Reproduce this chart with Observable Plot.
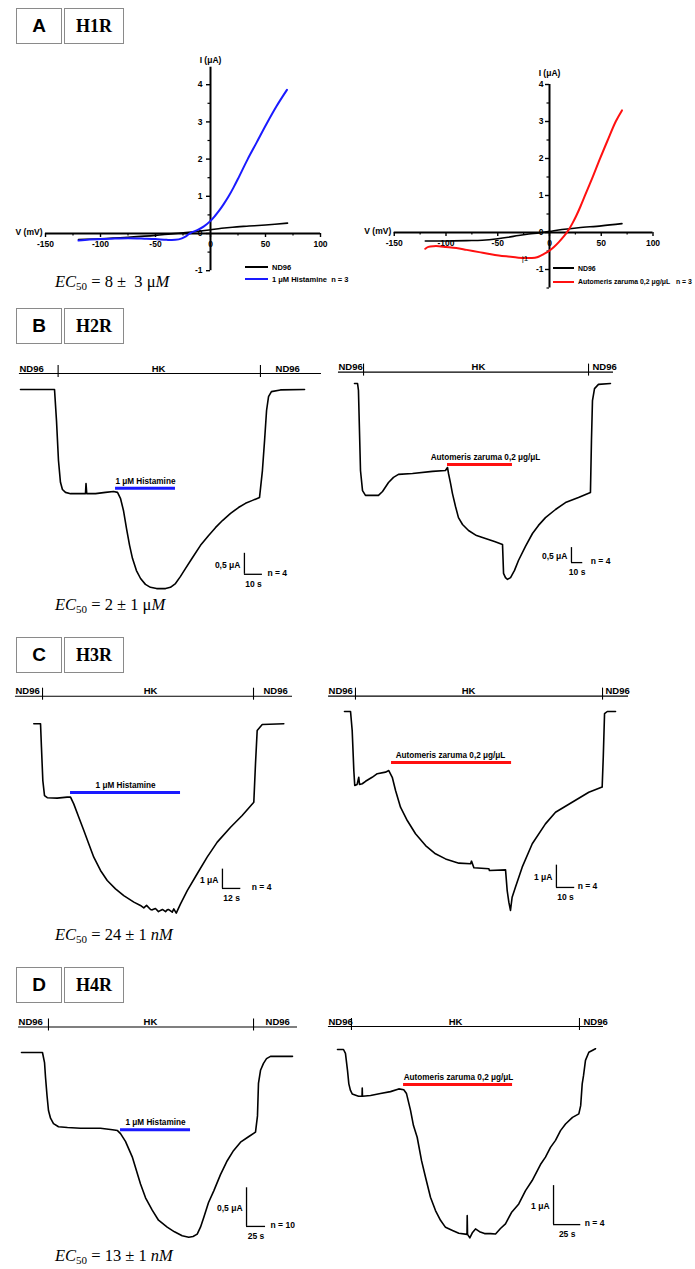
<!DOCTYPE html>
<html><head><meta charset="utf-8">
<script src="https://cdn.jsdelivr.net/npm/d3@7"></script>
<script src="https://cdn.jsdelivr.net/npm/@observablehq/plot@0.6"></script>
<style>
html,body{margin:0;padding:0;background:#fff;}
#fig{position:relative;width:695px;height:1269px;overflow:hidden;background:#fff;font-family:"Liberation Sans",Arial,sans-serif;color:#000;}
#fig svg{position:absolute;overflow:visible;background:transparent;}
.box{position:absolute;box-sizing:border-box;border:1.5px solid #8a8a8a;display:flex;align-items:center;justify-content:center;background:#fff;}
.letter{font-family:"Liberation Sans",Arial,sans-serif;font-weight:bold;font-size:19px;}
.rec{font-family:"Liberation Serif","Times New Roman",serif;font-weight:bold;font-size:18px;}
.ec{position:absolute;font-family:"Liberation Serif","Times New Roman",serif;font-size:16.5px;line-height:20px;white-space:pre;}
.ec sub{font-size:11px;vertical-align:-3px;line-height:0;}
.leg{position:absolute;display:flex;align-items:center;height:10px;font-weight:bold;font-size:7.5px;white-space:pre;}
.leg .sw{display:inline-block;height:2px;margin-right:4px;}
</style></head><body><div id="fig"></div>
<script>
// ================= DATA =================
const panelLetters = ["A", "B", "C", "D"];
const receptors = ["H1R", "H2R", "H3R", "H4R"];
const ec50Text = ["8 \u00b1  3 \u03bc<i>M</i>", "2 \u00b1 1 \u03bc<i>M</i>", "24 \u00b1 1 <i>nM</i>", "13 \u00b1 1 <i>nM</i>"];
const solutionNames = ["ND96", "HK", "ND96"];
const histLabel = "1 \u03bcM Histamine";
const toxLabel = "Automeris zaruma 0,2 \u03bcg/\u03bcL";
const legendH1 = ["ND96", "1 \u03bcM Histamine  n = 3"];
const legendAz = ["ND96", "Automeris zaruma 0,2 \u03bcg/\u03bcL   n = 3"];
const ivXTitle = "V (mV)";
const ivYTitle = "I (\u03bcA)";

// IV axes ticks
const ivTicksV = [-150, -100, -50, 0, 50, 100];
const ivMinorV = [-125, -75, -25, 25, 75];
const ivLeftYMajor = [-1, 0, 1, 2, 3, 4];
const ivLeftYMinor = [-0.5, 0.5, 1.5, 2.5, 3.5];
const ivRightYMajor = [-1, 0, 1, 2, 3, 4];
const ivRightYMinor = [-1.5, -0.5, 0.5, 1.5, 2.5, 3.5];

// IV curves (V in mV, I in µA)
const ivH1_V_nd96 = [-120,-100,-75,-50,-36,-20,-10,0,10,20,35,50,70];
const ivH1_I_nd96 = [-0.16,-0.14,-0.10,-0.05,-0.01,0.03,0.06,0.10,0.14,0.17,0.20,0.23,0.28];
const ivH1_V_hist = [-120,-110,-100,-90,-75,-60,-50,-40,-32,-26,-22,-18,-12,-6,0,4,8,12,16.5,21,25,33.5,42,51,60,69.5];
const ivH1_I_hist = [-0.19,-0.16,-0.15,-0.14,-0.13,-0.14,-0.15,-0.17,-0.17,-0.13,-0.07,0.02,0.09,0.19,0.34,0.47,0.62,0.79,1.0,1.24,1.47,1.98,2.45,2.95,3.42,3.86];
const ivAz_V_nd96 = [-120,-100,-80,-65,-50,-40,-30,-20,-10,0,12,28,50,70];
const ivAz_I_nd96 = [-0.23,-0.23,-0.22,-0.21,-0.17,-0.13,-0.08,-0.04,-0.01,0.03,0.08,0.13,0.18,0.24];
const ivAz_V_tox = [-120,-117,-112,-107,-100,-90,-80,-68,-58,-49,-40,-30,-22,-17,-12,-8,-4,0,4,9,14,18,22,26,30,34,41,48,56,64,70];
const ivAz_I_tox = [-0.44,-0.39,-0.37,-0.37,-0.39,-0.42,-0.47,-0.53,-0.58,-0.62,-0.65,-0.68,-0.69,-0.69,-0.67,-0.62,-0.56,-0.49,-0.40,-0.26,-0.10,0.05,0.24,0.46,0.71,0.98,1.45,1.94,2.48,3.0,3.3];

// Current traces (t in s, I in µA relative to ND96 baseline)
const trH2Hist_t = [0,18.9,20.0,21.1,22.2,23.3,25.0,27.8,36.1,36.4,36.8,41.7,47.2,51.7,53.9,55.6,57.2,58.9,60.6,62.2,64.4,66.7,69.4,72.2,75.6,80.6,83.3,86.1,88.9,91.7,95.6,100.0,104.4,108.3,112.2,116.7,121.1,125.0,128.9,132.8,134.4,135.6,136.7,137.8,139.4,144.4,157.8];
const trH2Hist_i = [0,0,-0.74,-1.69,-2.21,-2.38,-2.45,-2.48,-2.48,-2.24,-2.48,-2.48,-2.45,-2.43,-2.45,-2.60,-2.88,-3.31,-3.71,-4.02,-4.31,-4.50,-4.64,-4.71,-4.74,-4.74,-4.71,-4.62,-4.45,-4.26,-4.00,-3.71,-3.48,-3.29,-3.12,-2.95,-2.81,-2.71,-2.64,-2.57,-1.93,-1.21,-0.50,-0.17,-0.05,-0.01,0];
const trH2Tox_t = [0,2.7,3.5,4.4,5.3,7.1,9.7,21.2,24.8,30.1,34.5,38.9,51.3,69.0,80.5,82.3,83.2,85.0,86.7,89.4,92.0,95.6,100.9,108.0,115.9,123.9,131.0,131.9,133.6,135.4,138.1,141.6,145.1,151.3,157.5,162.8,169.0,177.9,186.7,198.2,208.8,209.7,210.6,212.4,215.9,226.5];
const trH2Tox_i = [0,0,-0.23,-1.57,-2.90,-3.57,-3.73,-3.73,-3.60,-3.30,-3.13,-3.03,-3.00,-2.93,-2.90,-2.80,-3.00,-3.33,-3.67,-4.10,-4.47,-4.70,-4.90,-5.07,-5.17,-5.27,-5.37,-6.33,-6.47,-6.53,-6.47,-6.23,-5.90,-5.43,-5.00,-4.73,-4.47,-4.20,-3.97,-3.80,-3.63,-1.90,-0.57,-0.17,-0.03,0];
const trH3Hist_t = [0,4.4,5.0,5.9,7.0,8.8,15.3,21.8,24.0,26.1,29.4,32.7,35.9,39.2,43.6,48.0,53.4,58.8,65.4,69.7,71.9,73.7,76.3,77.4,79.5,81.5,82.8,84.1,86.1,87.2,88.0,90.5,91.5,93.1,95.9,100.3,106.8,113.3,119.9,128.6,136.2,143.8,144.9,146.0,149.3,163.4];
const trH3Hist_i = [0,0,-1.21,-2.94,-3.72,-3.83,-3.85,-3.80,-3.80,-4.15,-4.84,-5.53,-6.22,-6.91,-7.60,-8.12,-8.55,-8.90,-9.24,-9.41,-9.54,-9.41,-9.62,-9.64,-9.57,-9.73,-9.67,-9.62,-9.73,-9.64,-9.62,-9.76,-9.59,-9.81,-9.33,-8.64,-7.77,-6.91,-6.13,-5.36,-4.75,-4.06,-2.07,-0.35,-0.04,0];
const trH3Tox_t = [0,3.3,4.2,5.1,5.6,6.9,7.8,8.2,9.7,11.5,15.1,17.9,22.4,24.2,26.1,27.9,30.6,34.3,38.8,44.3,49.7,55.2,62.5,68.9,69.4,70.7,78.9,79.2,88.0,88.9,89.8,90.7,91.6,93.4,97.1,102.6,109.8,115.3,124.4,133.5,140.8,141.4,142.1,143.6,148.1];
const trH3Tox_i = [0,0,-0.85,-2.65,-3.32,-3.27,-2.95,-3.27,-3.24,-3.13,-2.95,-2.79,-2.72,-2.65,-2.95,-3.54,-4.29,-4.89,-5.48,-6.01,-6.38,-6.61,-6.80,-6.83,-6.71,-7.01,-7.05,-7.13,-7.10,-8.03,-8.55,-8.92,-8.33,-7.88,-6.98,-5.93,-5.04,-4.52,-4.07,-3.62,-3.39,-2.05,-0.10,0,0];
const trH4Hist_t = [0,27.6,30.3,31.6,33.6,35.5,38.2,42.1,48.7,60.5,77.6,103.9,119.7,126.3,130.3,136.8,145.7,151.3,156.6,163.2,172.0,180.3,191.7,201.3,211.4,220.1,225.7,231.2,235.5,239.9,246.1,253.0,261.8,270.7,278.9,288.2,298.7,307.9,310.5,311.8,314.5,318.4,322.4,327.6,356.6];
const trH4Hist_i = [0,0,-0.13,-0.32,-0.56,-0.75,-0.85,-0.92,-0.96,-0.97,-0.98,-0.98,-1.00,-1.01,-1.05,-1.15,-1.35,-1.53,-1.70,-1.88,-2.04,-2.17,-2.26,-2.32,-2.37,-2.39,-2.38,-2.35,-2.26,-2.13,-1.94,-1.79,-1.58,-1.40,-1.27,-1.16,-1.09,-1.03,-0.82,-0.40,-0.23,-0.14,-0.08,-0.05,-0.05];
const trH4Tox_t = [0,5.5,7.3,9.2,10.4,11.9,13.5,19.3,22.5,22.7,22.9,30.3,39.4,48.6,56.2,60.8,63.3,67.0,69.7,73.1,77.1,80.7,85.3,89.9,94.5,99.1,105.5,111.3,118.8,119.0,119.3,121.4,123.9,126.6,130.3,134.9,140.4,145.0,149.5,154.1,159.6,166.3,172.5,178.6,186.2,190.8,195.4,200.0,204.6,209.2,215.6,221.4,223.1,224.5,225.7,227.5,230.6,236.7];
const trH4Tox_i = [0,0,-0.10,-0.54,-0.88,-1.05,-1.14,-1.20,-1.20,-0.99,-1.20,-1.18,-1.13,-1.08,-1.01,-1.03,-1.13,-1.56,-1.95,-2.25,-2.85,-3.27,-3.79,-4.13,-4.38,-4.56,-4.64,-4.71,-4.74,-4.26,-4.74,-4.83,-4.69,-4.60,-4.67,-4.72,-4.72,-4.73,-4.59,-4.47,-4.18,-3.96,-3.62,-3.36,-2.95,-2.76,-2.51,-2.33,-2.08,-1.91,-1.74,-1.65,-1.44,-0.88,-0.67,-0.28,-0.07,0.02];

// Solution switch times (s): ND96 -> HK, HK -> ND96
const swH2Hist = [20.9, 133.3], swH2Tox = [8.0, 207.1];
const swH3Hist = [5.7, 143.6], swH3Tox = [6.0, 141.0];
const swH4Hist = [35.5, 305.3], swH4Tox = [12.8, 222.0];
// Drug application windows (s)
const appH2Hist = [52.8, 86.1], appH2Tox = [82.3, 139.8];
const appH3Hist = [24.0, 95.9], appH3Tox = [25.7, 91.3];
const appH4Hist = [130.3, 222.4], appH4Tox = [60.6, 160.6];
// Scale bars: [current µA, time s] and labels
const sbH2Hist = [0.5, 10], sbH2Tox = [0.5, 10];
const sbH3Hist = [1, 12], sbH3Tox = [1, 10];
const sbH4Hist = [0.5, 25], sbH4Tox = [1, 25];
const sbLabH2Hist = ["0,5 \u03bcA", "10 s", "n = 4"], sbLabH2Tox = ["0,5 \u03bcA", "10 s", "n = 4"];
const sbLabH3Hist = ["1 \u03bcA", "12 s", "n = 4"], sbLabH3Tox = ["1 \u03bcA", "10 s", "n = 4"];
const sbLabH4Hist = ["0,5 \u03bcA", "25 s", "n = 10"], sbLabH4Tox = ["1 \u03bcA", "25 s", "n = 4"];

// ================= DRAWING =================
const BLUE = "#1a1aff", RED = "#ff1010";
const fig = document.getElementById("fig");
const STYLE = {fontFamily: '"Liberation Sans", Arial, sans-serif', fontSize: "8px", background: "transparent", overflow: "visible"};
const B = {fontWeight: "bold", fill: "#000"};

function place(svg, left, top) {
  svg.style.left = left + "px"; svg.style.top = top + "px"; svg.style.position = "absolute";
  fig.appendChild(svg);
}

function ivPlot(o) {
  const xd = [(o.left - o.x0) / o.pxV, (o.left + o.width - o.x0) / o.pxV];
  const yd = [(o.y0 - (o.top + o.height)) / o.pxI, (o.y0 - o.top) / o.pxI];
  const tI = 4 / o.pxI, tIm = 2.5 / o.pxI, tV = 4 / o.pxV, tVm = 2.5 / o.pxV;
  const vMin = ivTicksV[0], vMax = ivTicksV[ivTicksV.length - 1];
  const marks = [
    Plot.ruleY([0], {y: d => d, x1: () => vMin, x2: () => vMax, stroke: "#000", strokeWidth: 2}),
    Plot.ruleX([0], {x: d => d, y1: () => o.yMin, y2: () => o.yMax, stroke: "#000", strokeWidth: 2}),
    Plot.ruleX(ivTicksV, {x: d => d, y1: () => 0, y2: () => -tI, stroke: "#000", strokeWidth: 1.4}),
    Plot.ruleX(ivMinorV, {x: d => d, y1: () => 0, y2: () => -tIm, stroke: "#000", strokeWidth: 1.2}),
    Plot.ruleY(o.yMajor, {y: d => d, x1: () => 0, x2: () => -tV, stroke: "#000", strokeWidth: 1.4}),
    Plot.ruleY(o.yMinor, {y: d => d, x1: () => 0, x2: () => -tVm, stroke: "#000", strokeWidth: 1.2}),
    Plot.text(ivTicksV, {x: d => d, y: () => 0, dy: 10.5, text: d => String(d), fontSize: 8.5, ...B}),
    Plot.text(o.yMajor, {x: () => 0, y: d => d, dx: o.yTickDx, textAnchor: "end", text: d => String(d), fontSize: 8.5, ...B}),
    Plot.text([ivYTitle], {x: () => 0, y: () => o.yMax, dy: o.yTitleDy, text: d => d, fontSize: 8.5, ...B}),
    Plot.text([ivXTitle], {x: () => vMin, y: () => 0, dx: -3, dy: -1, textAnchor: "end", text: d => d, fontSize: 8.5, ...B}),
    ...o.series.map(s => Plot.line(s.V.map((v, k) => ({v, i: s.I[k]})),
      {x: "v", y: "i", stroke: s.color, strokeWidth: s.w, curve: "catmull-rom"}))
  ];
  if (o.marker) marks.push(Plot.text([o.marker.s], {x: () => o.marker.v, y: () => o.marker.i, text: d => d, fontSize: 8, fill: "#000"}));
  const svg = Plot.plot({width: o.width, height: o.height, margin: 0, style: STYLE,
    x: {domain: xd, axis: null}, y: {domain: yd, axis: null}, marks});
  place(svg, o.left, o.top);
}

function tracePlot(o) {
  const xd = [(o.left - o.x0) / o.pxS, (o.left + o.width - o.x0) / o.pxS];
  const yd = [(o.y0 - (o.top + o.height)) / o.pxA, (o.y0 - o.top) / o.pxA];
  const data = o.t.map((t, k) => ({t, i: o.i[k]}));
  const up = 8 / o.pxA, dn = 4 / o.pxA;
  const L = o.solLevel;
  const sb = o.sb, sbT = o.sbAt[0], sbI = o.sbAt[1];
  const marks = [
    // solution bar
    Plot.ruleY([L], {y: d => d, x1: () => o.solRange[0], x2: () => o.solRange[1], stroke: "#000", strokeWidth: 1.1}),
    Plot.ruleX(o.sw, {x: d => d, y1: () => L - dn, y2: () => L + up, stroke: "#000", strokeWidth: 1.1}),
    Plot.text([{t: o.solLab[0], s: solutionNames[0]}, {t: o.solLab[2], s: solutionNames[2]}],
      {x: "t", y: () => L, text: "s", textAnchor: "start", dy: -5, fontSize: 9.5, ...B}),
    Plot.text([{t: o.solLab[1], s: solutionNames[1]}],
      {x: "t", y: () => L, text: "s", textAnchor: "middle", dy: -5, fontSize: 9.5, ...B}),
    // drug application bar
    Plot.ruleY([o.drugLevel], {y: d => d, x1: () => o.app[0], x2: () => o.app[1], stroke: o.color, strokeWidth: 3}),
    Plot.text([o.drugLabel], {x: () => o.drugLabT, y: () => o.drugLevel, dy: -7, text: d => d, fontSize: 8.2, ...B}),
    // trace
    Plot.line(data, {x: "t", y: "i", stroke: "#000", strokeWidth: 1.6, strokeLinejoin: "round"}),
    // scale bar
    Plot.ruleX([sbT], {x: d => d, y1: () => sbI, y2: () => sbI + sb[0], stroke: "#000", strokeWidth: 1.3}),
    Plot.ruleY([sbI], {y: d => d, x1: () => sbT, x2: () => sbT + sb[1], stroke: "#000", strokeWidth: 1.3}),
    Plot.text([o.sbLab[0]], {x: () => sbT, y: () => sbI + sb[0] / 2, dx: -4, dy: 1, textAnchor: "end", text: d => d, fontSize: 8.5, ...B}),
    Plot.text([o.sbLab[1]], {x: () => sbT + sb[1] / 2, y: () => sbI, dy: 9.5, text: d => d, fontSize: 8.5, ...B}),
    Plot.text([o.sbLab[2]], {x: () => sbT + sb[1], y: () => sbI, dx: o.nDx, dy: -1, textAnchor: "start", text: d => d, fontSize: 8.5, ...B})
  ];
  const svg = Plot.plot({width: o.width, height: o.height, margin: 0, style: STYLE,
    x: {domain: xd, axis: null}, y: {domain: yd, axis: null}, marks});
  place(svg, o.left, o.top);
}

// ---- IV panels (A)
ivPlot({left: 0, top: 45, width: 345, height: 250, x0: 210, y0: 233, pxV: 1.1, pxI: 37.2,
  yMin: -1, yMax: 4.47, yMajor: ivLeftYMajor, yMinor: ivLeftYMinor, yTickDx: -8, yTitleDy: -7,
  series: [{V: ivH1_V_nd96, I: ivH1_I_nd96, color: "#000", w: 1.6}, {V: ivH1_V_hist, I: ivH1_I_hist, color: BLUE, w: 2}]});
ivPlot({left: 345, top: 45, width: 350, height: 250, x0: 549, y0: 232, pxV: 1.035, pxI: 37,
  yMin: -1.5, yMax: 4, yMajor: ivRightYMajor, yMinor: ivRightYMinor, yTickDx: -6, yTitleDy: -11,
  marker: {s: "|1", v: -23.7, i: -0.70},
  series: [{V: ivAz_V_nd96, I: ivAz_I_nd96, color: "#000", w: 1.6}, {V: ivAz_V_tox, I: ivAz_I_tox, color: RED, w: 2}]});

// ---- Trace panels (B, C, D)
tracePlot({left: 0, top: 355, width: 335, height: 250, x0: 20, y0: 389, pxS: 1.8, pxA: 42,
  t: trH2Hist_t, i: trH2Hist_i, solLevel: 0.38, solRange: [-0.6, 167.2], sw: swH2Hist, solLab: [-0.6, 76.7, 141.7],
  app: appH2Hist, drugLevel: -2.35, drugLabT: 69.4, drugLabel: histLabel, color: BLUE,
  sb: sbH2Hist, sbAt: [124.4, -4.40], sbLab: sbLabH2Hist, nDx: 5});
tracePlot({left: 330, top: 355, width: 365, height: 250, x0: 354, y0: 383, pxS: 1.13, pxA: 30,
  t: trH2Tox_t, i: trH2Tox_i, solLevel: 0.38, solRange: [-14.2, 229.2], sw: swH2Tox, solLab: [-14.2, 109.7, 210.6],
  app: appH2Tox, drugLevel: -2.70, drugLabT: 115.9, drugLabel: toxLabel, color: RED,
  sb: sbH2Tox, sbAt: [192.0, -5.97], sbLab: sbLabH2Tox, nDx: 8});
tracePlot({left: 0, top: 680, width: 330, height: 235, x0: 33.3, y0: 723.3, pxS: 1.53, pxA: 19.3,
  t: trH3Hist_t, i: trH3Hist_i, solLevel: 1.43, solRange: [-12.0, 169.1], sw: swH3Hist, solLab: [-12.0, 76.3, 150.1],
  app: appH3Hist, drugLevel: -3.56, drugLabT: 60.0, drugLabel: histLabel, color: BLUE,
  sb: sbH3Hist, sbAt: [123.3, -8.53], sbLab: sbLabH3Hist, nDx: 11});
tracePlot({left: 320, top: 680, width: 375, height: 235, x0: 344, y0: 711, pxS: 1.83, pxA: 22.3,
  t: trH3Tox_t, i: trH3Tox_i, solLevel: 0.69, solRange: [-8.7, 155.2], sw: swH3Tox, solLab: [-8.7, 67.8, 142.6],
  app: appH3Tox, drugLevel: -2.29, drugLabT: 57.9, drugLabel: toxLabel, color: RED,
  sb: sbH3Tox, sbAt: [115.8, -7.89], sbLab: sbLabH3Tox, nDx: 3});
tracePlot({left: 0, top: 1010, width: 330, height: 240, x0: 21, y0: 1052, pxS: 0.76, pxA: 77.3,
  t: trH4Hist_t, i: trH4Hist_i, solLevel: 0.33, solRange: [-3.9, 363.2], sw: swH4Hist, solLab: [-3.9, 169.7, 321.1],
  app: appH4Hist, drugLevel: -1.0, drugLabT: 176.3, drugLabel: histLabel, color: BLUE,
  sb: sbH4Hist, sbAt: [296.1, -2.25], sbLab: sbLabH4Hist, nDx: 5});
tracePlot({left: 320, top: 1010, width: 375, height: 240, x0: 337, y0: 1049, pxS: 1.09, pxA: 39,
  t: trH4Tox_t, i: trH4Tox_i, solLevel: 0.59, solRange: [-8.3, 244.0], sw: swH4Tox, solLab: [-8.3, 108.3, 225.7],
  app: appH4Tox, drugLevel: -0.90, drugLabT: 111.0, drugLabel: toxLabel, color: RED,
  sb: sbH4Tox, sbAt: [198.2, -4.49], sbLab: sbLabH4Tox, nDx: 4});

// ---- HTML furniture: panel boxes, EC50 texts, IV legends
const boxTops = [8, 308, 637, 967];
const ecCenters = [282, 605, 935, 1256];
panelLetters.forEach((L, k) => {
  const a = document.createElement("div"); a.className = "box";
  Object.assign(a.style, {left: "16px", top: boxTops[k] + "px", width: "46px", height: "36px"});
  a.innerHTML = `<span class="letter">${L}</span>`; fig.appendChild(a);
  const b = document.createElement("div"); b.className = "box";
  Object.assign(b.style, {left: "64px", top: boxTops[k] + "px", width: "60px", height: "36px"});
  b.innerHTML = `<span class="rec">${receptors[k]}</span>`; fig.appendChild(b);
  const e = document.createElement("div"); e.className = "ec";
  Object.assign(e.style, {left: "55px", top: (ecCenters[k] - 10) + "px"});
  e.innerHTML = `<i>EC</i><sub>50</sub> = ${ec50Text[k]}`; fig.appendChild(e);
});
function legend(x, y, color, label, w, fs) {
  const d = document.createElement("div"); d.className = "leg";
  d.style.left = x + "px"; d.style.top = (y - 5) + "px"; d.style.fontSize = fs + "px";
  d.innerHTML = `<span class="sw" style="background:${color};width:${w}px"></span><span>${label}</span>`;
  fig.appendChild(d);
}
legend(245, 267, "#000", legendH1[0], 23, 7.5);
legend(245, 279.3, BLUE, legendH1[1], 23, 7.5);
legend(553, 268.3, "#000", legendAz[0], 21, 6.9);
legend(553, 281.7, RED, legendAz[1], 21, 6.9);
</script></body></html>
